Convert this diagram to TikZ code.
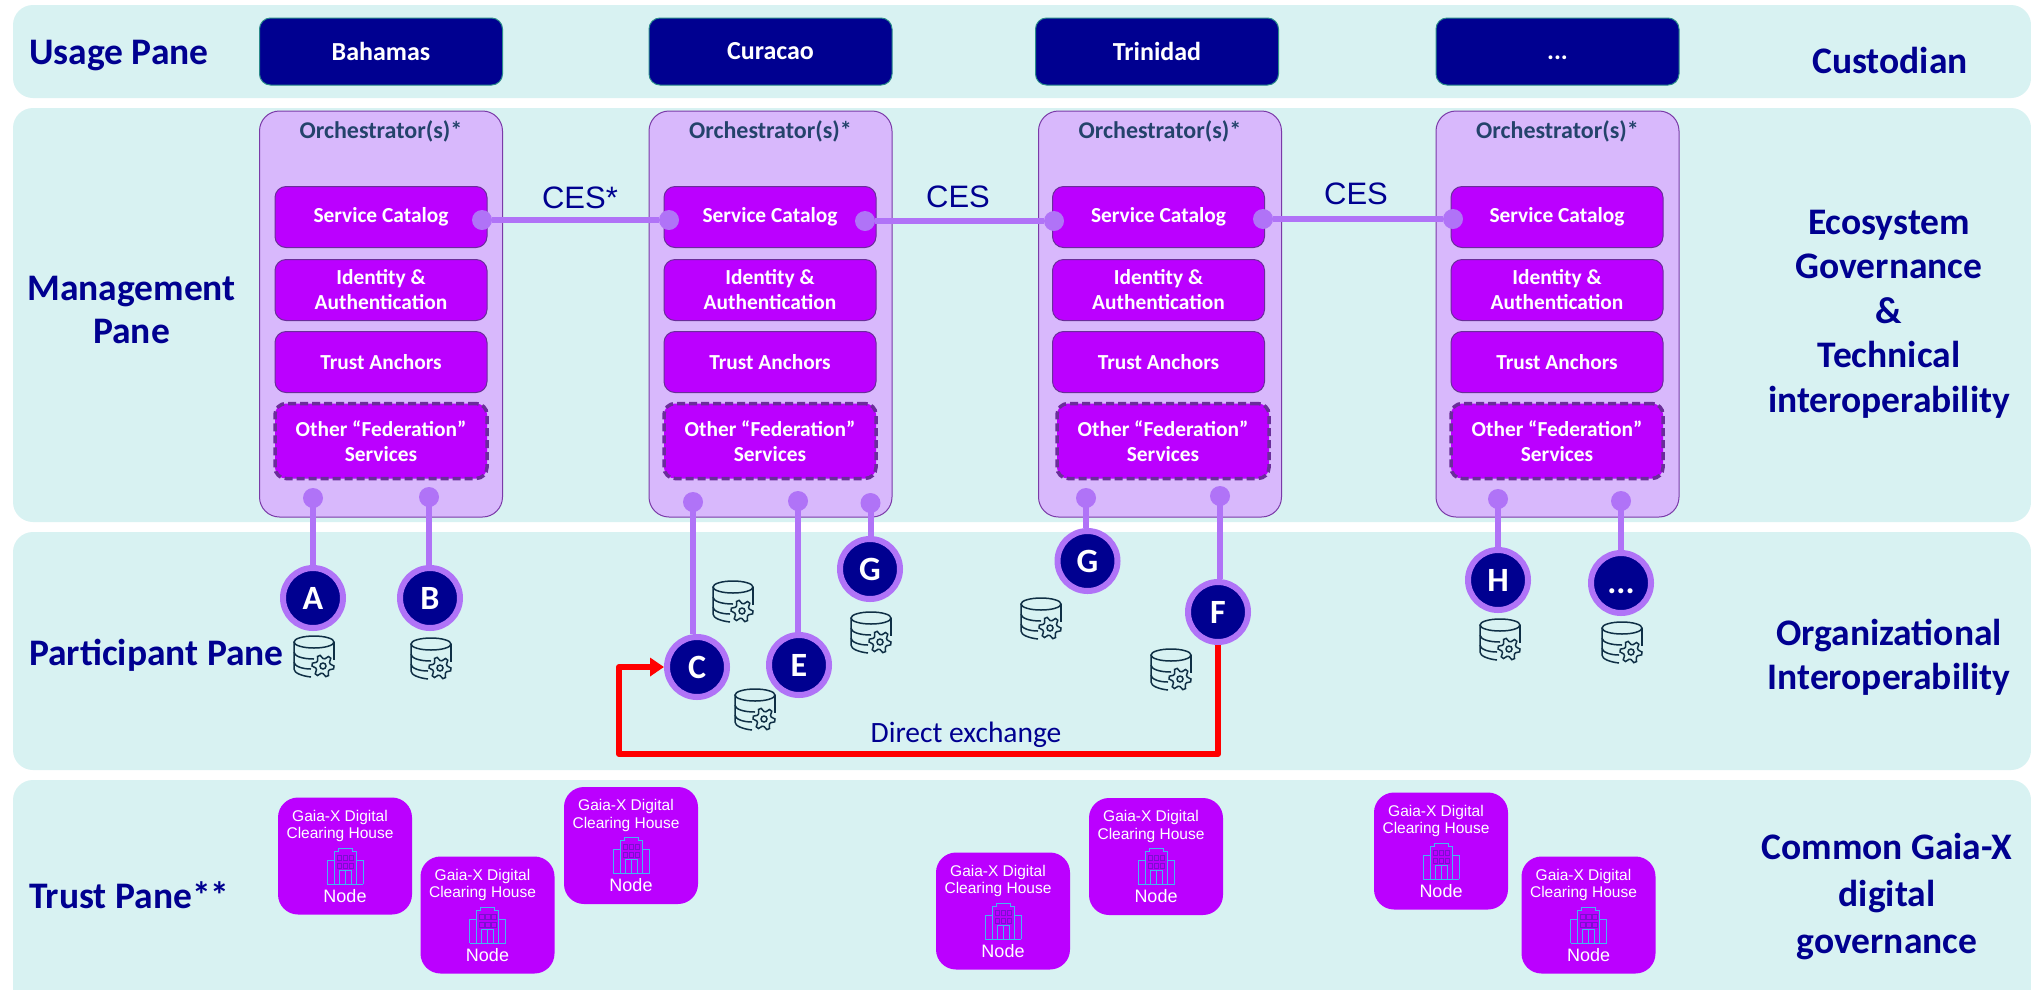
\documentclass[tikz,border=0pt]{standalone}
\usepackage{fontspec}
\setmainfont{Carlito}
\newfontfamily\helv{Liberation Sans}
\usetikzlibrary{arrows.meta}
\definecolor{band}{HTML}{D8F2F2}
\definecolor{navy}{HTML}{000090}
\definecolor{orchfill}{HTML}{D8B8FC}
\definecolor{orchline}{HTML}{7A3AA8}
\definecolor{magen}{HTML}{BB00FF}
\definecolor{innerline}{HTML}{6A2D9A}
\definecolor{linkc}{HTML}{B073F7}
\definecolor{slate}{HTML}{24436B}
\definecolor{teal}{HTML}{2A8A8A}
\definecolor{icond}{HTML}{0F2F45}
\definecolor{bldg}{HTML}{45B5F0}
\definecolor{winc}{HTML}{7A10D0}
\tikzset{
  x=1pt,y=-1pt,
  bandbox/.style={fill=band,rounded corners=20pt},
  paneleft/.style={anchor=west,inner sep=0pt,text=navy,font=\fontsize{37.5}{43}\selectfont\bfseries},
  panemid/.style={align=center,text=navy,font=\fontsize{37.5}{43}\selectfont\bfseries},
  panelab/.style={align=center,text=navy,font=\fontsize{37.5}{44.5}\selectfont\bfseries},
  usagebox/.style={draw=teal,line width=1pt,fill=navy,rounded corners=11pt,minimum width=243pt,minimum height=67pt,text=white,font=\fontsize{26}{30}\selectfont\bfseries},
  orchbox/.style={draw=orchline,line width=1pt,fill=orchfill,rounded corners=20pt,minimum width=243pt,minimum height=406pt},
  orchlab/.style={text=slate,font=\fontsize{24}{28}\selectfont\bfseries},
  innerbox/.style={draw=innerline,line width=1pt,fill=magen,rounded corners=11pt,minimum width=212pt,minimum height=61pt,align=center,text=white,font=\fontsize{21.4}{25}\selectfont\bfseries},
  otherbox/.style={innerbox,draw=innerline,line width=3.5pt,dash pattern=on 8pt off 4pt,minimum width=212pt,minimum height=75pt},
  dotn/.style={circle,fill=linkc,minimum size=20pt,inner sep=0pt},
  link/.style={draw=linkc,line width=6pt},
  partc/.style={circle,draw=linkc,line width=6pt,fill=navy,minimum size=60pt,inner sep=0pt,text=white,font=\fontsize{34}{40}\selectfont\bfseries},
  ceslab/.style={text=navy,font=\helv\fontsize{31}{36}\selectfont},
  redline/.style={draw=red,line width=6pt,line join=round,-{Triangle[length=14pt,width=18pt]}},
  trustbox/.style={fill=magen,rounded corners=20pt,minimum width=134pt,minimum height=117pt},
  trusttxt/.style={text=white,align=center,font=\helv\fontsize{15.5}{17.5}\selectfont},
  nodetxt/.style={text=white,font=\helv\fontsize{18}{20}\selectfont},
  dbgear/.pic={
    \draw[icond,line width=1.5pt] (0,-15) ellipse (20pt and 6pt);
    \draw[icond,line width=1.5pt] (-20,-15) -- (-20,12) .. controls (-20,16) and (-12,19) .. (-3,20);
    \draw[icond,line width=1.5pt] (-20,-5) .. controls (-20,-1) and (-12,2) .. (0,2);
    \draw[icond,line width=1.5pt] (-20,5) .. controls (-20,9) and (-12,12) .. (-3,12);
    \draw[icond,line width=1.5pt] (20,-15) -- (20,3);
    \draw[icond,line width=1.5pt,fill=band,shift={(9,9)}]
      (0:11) -- (15:11) -- (30:7.5) -- (45:7.5) -- (60:11) -- (75:11) -- (90:7.5) -- (105:7.5)
      -- (120:11) -- (135:11) -- (150:7.5) -- (165:7.5) -- (180:11) -- (195:11) -- (210:7.5) -- (225:7.5)
      -- (240:11) -- (255:11) -- (270:7.5) -- (285:7.5) -- (300:11) -- (315:11) -- (330:7.5) -- (345:7.5) -- cycle;
    \draw[icond,line width=1.5pt] (9,9) circle (3pt);
  },
  building/.pic={
    \draw[bldg,line width=1pt] (-18,18) -- (18,18);
    \draw[bldg,line width=1pt] (-18,18) -- (-18,-6) -- (-11,-6);
    \draw[bldg,line width=1pt] (18,18) -- (18,-6) -- (11,-6);
    \draw[bldg,line width=1pt] (-11,18) -- (-11,-15) -- (-7,-15) -- (-7,-18) -- (7,-18) -- (7,-15) -- (11,-15) -- (11,18);
    \draw[bldg,line width=.7pt] (-6,18) -- (-6,4) -- (6,4) -- (6,18) (0,4) -- (0,18);
    \foreach \wy in {-11,-3}{\foreach \wx in {-8,-2,4}{
      \draw[winc,line width=1pt] (\wx,\wy) rectangle ++(4.5,5);}}
  }
}
\begin{document}
\begin{tikzpicture}
\useasboundingbox (0,0) rectangle (2031,989);
\fill[white] (0,0) rectangle (2031,989);
\begin{scope}
\clip (0,0) rectangle (2031,989);
\path[bandbox] (13,5) rectangle (2031,98);
\path[bandbox] (13,108) rectangle (2031,522);
\path[bandbox] (13,532) rectangle (2031,770);
\path[bandbox] (13,780) rectangle (2031,1030);
\end{scope}

% left and right labels
\node[paneleft] (lusage) at (29,56) {Usage Pane};
\node[panemid] (lmgmt) at (131.5,310) {Management\\Pane};
\node[paneleft] (lpart) at (29,655) {Participant Pane};
\node[paneleft] (ltrust) at (29,895) {Trust Pane**};
\node[panelab] (rcust) at (1890,60) {Custodian};
\node[panelab] (reco) at (1889,314) {Ecosystem\\Governance\\\&\\Technical\\interoperability};
\node[panelab] (rorg) at (1889,657) {Organizational\\Interoperability};
\node[panelab,font=\fontsize{37.5}{47}\selectfont\bfseries] (rcom) at (1887,897) {Common Gaia-X\\digital\\governance};

% usage boxes
\node[usagebox] (u1) at (381,51.5) {Bahamas};
\node[usagebox] (u2) at (770.5,51.5) {Curacao};
\node[usagebox] (u3) at (1157,51.5) {Trinidad};
\node[usagebox] (u4) at (1557.5,51.5) {\vphantom{A}...};

% orchestrators
\foreach \n/\ox/\ix/\ex in {1/381/381/381,2/770.5/770/770,3/1160/1158.5/1163,4/1557.5/1557/1557}{
  \node[orchbox] (o\n) at (\ox,314) {};
  \node[orchlab] (ol\n) at (\ox,131) {Orchestrator(s)*};
  \node[innerbox] (sc\n) at (\ix,217) {\raisebox{-2.5pt}{Service Catalog}};
  \node[innerbox] (ia\n) at (\ix,290) {Identity \&\\Authentication};
  \node[innerbox] (ta\n) at (\ix,362) {\raisebox{-1pt}{Trust Anchors}};
  \node[otherbox] (fs\n) at (\ex,441) {\raisebox{-1pt}{Other “Federation”}\\\raisebox{-1pt}{Services}};
}

% interconnect dots
\node[dotn] (d1r) at (482,220) {};
\node[dotn] (d2l) at (669,220) {};
\node[dotn] (d2r) at (865,221) {};
\node[dotn] (d3l) at (1054,221) {};
\node[dotn] (d3r) at (1263,219) {};
\node[dotn] (d4l) at (1453,219) {};
\draw[link] (d1r) -- (d2l);
\draw[link] (d2r) -- (d3l);
\draw[link] (d3r) -- (d4l);
\node[ceslab] (c1) at (580,198) {CES*};
\node[ceslab] (c2) at (958,197) {CES};
\node[ceslab] (c3) at (1356,194) {CES};

% participants
\foreach \nm/\dx/\dy/\cx/\cy/\t in {A/313/498/313/598/A, B/429/497/430/598/B, C/693/502/697/667/C, E/798/501/799/665/E, Ga/870.5/503/870/569/G, Gb/1086/498/1087.5/561/G, F/1220/496/1218/612/F, H/1498/499/1498/580/H}{
  \node[dotn] (dot\nm) at (\dx,\dy) {};
  \node[partc] (\nm) at (\cx,\cy) {\t};
  \draw[link] (dot\nm.center) -- (dot\nm.center |- \nm.north);
}
\node[dotn] (dotX) at (1621,501) {};
\node[partc] (X) at (1621,583) {\vphantom{A}...};
\draw[link] (dotX.center) -- (dotX.center |- X.north);

% database icons
\foreach \ix/\iy in {314/657,431/659,733/602,755/710,871/633,1041/619,1171/670,1500/640,1622/643}{
  \pic at (\ix,\iy) {dbgear};
}

% direct exchange
\coordinate (redlow) at (619,754);
\draw[redline] (F.south) -- (F.south |- redlow) -- (redlow) -- (redlow |- C.west) -- (C.west);
\node[text=navy,font=\fontsize{29.5}{34}\selectfont] (dex) at (966,735) {Direct exchange};

% trust nodes
\foreach \k/\tx/\ty in {1/345/856,2/487.5/915,3/631/845.5,4/1003/911,5/1156/856.5,6/1441/851,7/1588.5/915}{
  \node[trustbox] (t\k) at (\tx,\ty) {};
  \node[trusttxt] (tt\k) at (\tx-5,\ty-30) {Gaia-X Digital\\Clearing House};
  \pic at (\tx,\ty+10) {building};
  \node[nodetxt] (tn\k) at (\tx,\ty+40) {Node};
}
\end{tikzpicture}
\end{document}
